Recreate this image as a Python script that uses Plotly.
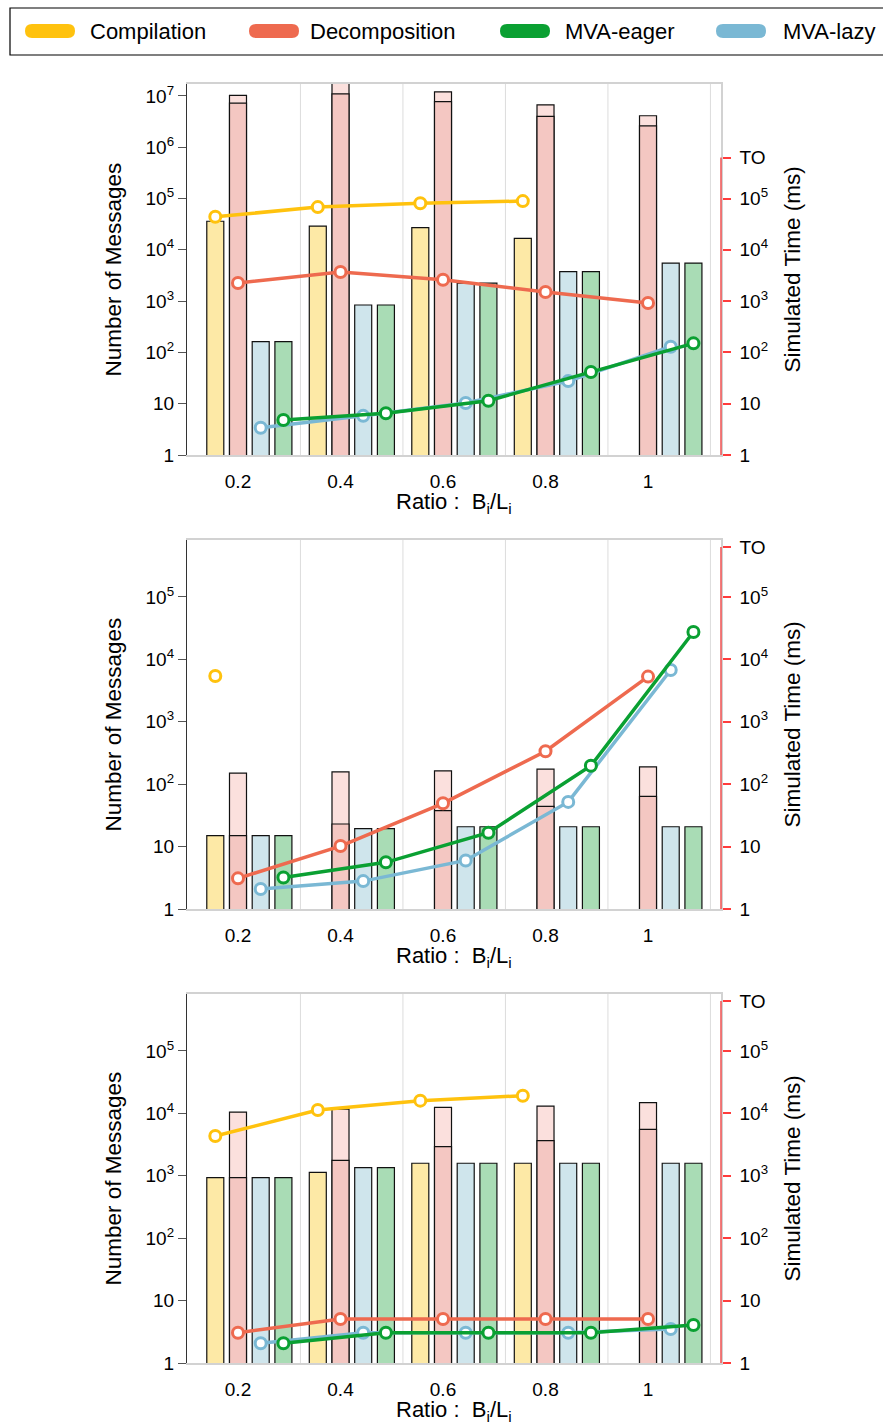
import math
import plotly.graph_objects as go

# ---------------------------------------------------------------- data
RATIOS = [0.2, 0.4, 0.6, 0.8, 1.0]
RATIO_LABELS = ["0.2", "0.4", "0.6", "0.8", "1"]
TIMEOUT_MS = 6.3e5  # position of the "TO" tick on the time axis

# Panel 1 -- number of messages (bars)
p1_msg_compilation = [3.6e4, 2.9e4, 2.7e4, 1.67e4, None]
p1_msg_decomp_first = [7.2e6, 1.1e7, 7.7e6, 4.0e6, 2.6e6]
p1_msg_decomp_total = [1.02e7, 1.8e7, 1.2e7, 6.7e6, 4.1e6]
p1_msg_lazy = [162, 840, 2240, 3750, 5500]
p1_msg_eager = [162, 840, 2240, 3750, 5500]
# Panel 1 -- simulated time in ms (lines)
p1_time_compilation = [4.4e4, 6.8e4, 8.1e4, 8.9e4, None]
p1_time_decomp = [2250, 3700, 2600, 1500, 920]
p1_time_lazy = [3.4, 5.8, 10.3, 27.6, 129]
p1_time_eager = [4.8, 6.5, 11.4, 41.5, 150]

# Panel 2
p2_msg_compilation = [15, None, None, None, None]
p2_msg_decomp_first = [15, 23, 37.6, 44, 64]
p2_msg_decomp_total = [150, 157, 164, 174, 189]
p2_msg_lazy = [15, 19.4, 20.8, 20.8, 20.8]
p2_msg_eager = [15, 19.4, 20.8, 20.8, 20.8]
p2_time_compilation = [5420, None, None, None, None]
p2_time_decomp = [3.1, 10.2, 49.4, 337, 5300]
p2_time_lazy = [2.09, 2.8, 6.0, 52, 6760]
p2_time_eager = [3.2, 5.6, 16.7, 198, 2.75e4]

# Panel 3
p3_msg_compilation = [933, 1138, 1588, 1588, None]
p3_msg_decomp_first = [933, 1771, 2924, 3652, 5560]
p3_msg_decomp_total = [1.05e4, 1.17e4, 1.25e4, 1.31e4, 1.49e4]
p3_msg_lazy = [933, 1350, 1588, 1588, 1588]
p3_msg_eager = [933, 1350, 1588, 1588, 1588]
p3_time_compilation = [4345, 1.13e4, 1.6e4, 1.92e4, None]
p3_time_decomp = [3.06, 5.07, 5.07, 5.07, 5.07]
p3_time_lazy = [2.07, 3.06, 3.06, 3.06, 3.5]
p3_time_eager = [2.07, 3.06, 3.06, 3.06, 4.06]

panels = [
    dict(msg=(p1_msg_compilation, p1_msg_decomp_first, p1_msg_decomp_total, p1_msg_lazy, p1_msg_eager),
         time=(p1_time_compilation, p1_time_decomp, p1_time_lazy, p1_time_eager), top=7.232, decades=7),
    dict(msg=(p2_msg_compilation, p2_msg_decomp_first, p2_msg_decomp_total, p2_msg_lazy, p2_msg_eager),
         time=(p2_time_compilation, p2_time_decomp, p2_time_lazy, p2_time_eager), top=5.913, decades=5),
    dict(msg=(p3_msg_compilation, p3_msg_decomp_first, p3_msg_decomp_total, p3_msg_lazy, p3_msg_eager),
         time=(p3_time_compilation, p3_time_decomp, p3_time_lazy, p3_time_eager), top=5.913, decades=5),
]

# ---------------------------------------------------------------- style
W, H = 883, 1427
FONT = "Liberation Sans, Arial, Helvetica, sans-serif"

C_COMP, C_COMP_BAR = "#ffc20e", "#fde9a6"
C_DEC, C_DEC_BAR, C_DEC_BAR_LIGHT = "#ee6a4f", "#f4c7c2", "#fbe0dd"
C_EAGER, C_EAGER_BAR = "#0aa032", "#a9dcb5"
C_LAZY, C_LAZY_BAR = "#7ab8d4", "#cfe5ec"

STEP = 0.0443      # distance between neighbouring bars of a group
BAR_W = 0.0332     # bar width
X_RANGE = [0.1005, 1.1424]
X_DOMAIN = [187 / W, 721 / W]
# plot area rows (top, bottom) in pixels
ROWS = [(84, 455), (540, 909), (994, 1363)]


def py(px):
    return 1 - px / H


def sup_label(k):
    if k == 0:
        return "1"
    if k == 1:
        return "10"
    return f"10<sup>{k}</sup>"


fig = go.Figure()
layout = dict(
    width=W, height=H,
    margin=dict(l=0, r=0, t=0, b=0, autoexpand=False),
    paper_bgcolor="white", plot_bgcolor="white",
    font=dict(family=FONT, size=19, color="black"),
    showlegend=False,
    barmode="overlay",
    shapes=[], annotations=[],
)

for i, pnl in enumerate(panels):
    xa = "x" if i == 0 else f"x{i + 1}"
    yl = "y" if i == 0 else f"y{2 * i + 1}"
    yr = f"y{2 * i + 2}"
    top_px, bot_px = ROWS[i]
    dom_y = [py(bot_px), py(top_px)]

    comp, dec_first, dec_total, lazy, eager = pnl["msg"]
    t_comp, t_dec, t_lazy, t_eager = pnl["time"]

    pos = {k: [r + off * STEP for r in RATIOS]
           for k, off in (("comp", -1), ("dec", 0), ("lazy", 1), ("eager", 2))}

    bar_line = dict(color="#111111", width=1.2)
    for xs, ys, col in ((pos["comp"], comp, C_COMP_BAR),
                        (pos["dec"], dec_total, C_DEC_BAR_LIGHT),
                        (pos["dec"], dec_first, C_DEC_BAR),
                        (pos["lazy"], lazy, C_LAZY_BAR),
                        (pos["eager"], eager, C_EAGER_BAR)):
        fig.add_trace(go.Bar(x=xs, y=ys, width=BAR_W, xaxis=xa, yaxis=yl,
                             marker=dict(color=col, line=bar_line), hoverinfo="skip"))

    for xs, ys, col in ((pos["lazy"], t_lazy, C_LAZY),
                        (pos["eager"], t_eager, C_EAGER),
                        (pos["dec"], t_dec, C_DEC),
                        (pos["comp"], t_comp, C_COMP)):
        fig.add_trace(go.Scatter(x=xs, y=ys, xaxis=xa, yaxis=yr, mode="lines+markers",
                                 line=dict(color=col, width=3.5),
                                 marker=dict(symbol="circle", size=11, color="white",
                                             line=dict(color=col, width=3)),
                                 hoverinfo="skip"))

    rng = [0, pnl["top"]]
    left_vals = [10 ** k for k in range(pnl["decades"] + 1)]
    right_vals = [10 ** k for k in range(6)] + [TIMEOUT_MS]

    layout["xaxis" if i == 0 else f"xaxis{i + 1}"] = dict(
        domain=X_DOMAIN, range=X_RANGE, anchor=yl,
        tickmode="array", tickvals=RATIOS, ticktext=RATIO_LABELS,
        ticks="", ticklabelstandoff=8, showgrid=False, zeroline=False,
        showline=True, linecolor="#d2d2d2", linewidth=1.5, mirror=True,
        tickfont=dict(size=19),
    )
    layout["yaxis" if i == 0 else f"yaxis{2 * i + 1}"] = dict(
        domain=dom_y, type="log", range=rng, anchor=xa,
        tickmode="array", tickvals=left_vals,
        ticktext=[sup_label(k) for k in range(pnl["decades"] + 1)],
        ticks="outside", ticklen=8, tickcolor="#555555", tickwidth=1.2,
        showline=True, linecolor="#333333", linewidth=1.2,
        showgrid=False, zeroline=False, tickfont=dict(size=19),
    )
    layout[f"yaxis{2 * i + 2}"] = dict(
        type="log", range=rng, anchor=xa, overlaying=yl, side="right",
        tickmode="array", tickvals=right_vals,
        ticktext=[sup_label(k) for k in range(6)] + ["TO"],
        ticks="outside", ticklen=8, tickcolor="#ff3b3b", tickwidth=1.5,
        ticklabelstandoff=5,
        showline=True, linecolor="#d2d2d2", linewidth=1.5,
        showgrid=False, zeroline=False, tickfont=dict(size=19),
    )

    # vertical separators between ratio groups
    for r in RATIOS:
        layout["shapes"].append(dict(
            type="line", xref=xa, yref=f"{yl} domain", x0=r + 2.75 * STEP, x1=r + 2.75 * STEP,
            y0=0, y1=1, line=dict(color="#dcdcdc", width=1), layer="below"))
    # red time axis from 1 up to the timeout mark
    layout["shapes"].append(dict(
        type="line", xref=f"{xa} domain", yref=f"{yl} domain", x0=1, x1=1,
        y0=0, y1=math.log10(TIMEOUT_MS) / pnl["top"],
        line=dict(color="#f25a5a", width=1.6), layer="above"))

    # axis titles
    layout["annotations"] += [
        dict(text="Ratio :  B<sub>i</sub>/L<sub>i</sub>", xref="paper", yref="paper",
             x=(X_DOMAIN[0] + X_DOMAIN[1]) / 2, y=py(bot_px + 48), xanchor="center",
             yanchor="middle", showarrow=False, font=dict(size=22)),
        dict(text="Number of Messages", xref="paper", yref="paper", textangle=-90,
             x=113 / W, y=py((top_px + bot_px) / 2), xanchor="center", yanchor="middle",
             showarrow=False, font=dict(size=22.5)),
        dict(text="Simulated Time (ms)", xref="paper", yref="paper", textangle=-90,
             x=792 / W, y=py((top_px + bot_px) / 2), xanchor="center", yanchor="middle",
             showarrow=False, font=dict(size=22.5)),
    ]

# ---------------------------------------------------------------- legend
layout["shapes"].append(dict(type="rect", xref="paper", yref="paper",
                             x0=10 / W, x1=1.02, y0=py(55), y1=py(8),
                             line=dict(color="black", width=1.2), fillcolor="white"))
pill = ("M -18,-7 L 18,-7 Q 25,-7 25,0 Q 25,7 18,7 "
        "L -18,7 Q -25,7 -25,0 Q -25,-7 -18,-7 Z")
legend_items = [("Compilation", C_COMP, 50, 88), ("Decomposition", C_DEC, 274, 308),
                ("MVA-eager", C_EAGER, 525, 563), ("MVA-lazy", C_LAZY, 741, 781)]
for name, col, cx, tx in legend_items:
    layout["shapes"].append(dict(type="path", xref="paper", yref="paper",
                                 xsizemode="pixel", ysizemode="pixel",
                                 xanchor=cx / W, yanchor=py(31), path=pill,
                                 fillcolor=col, line=dict(width=0)))
    layout["annotations"].append(dict(text=name, xref="paper", yref="paper",
                                      x=tx / W, y=py(31), xanchor="left", yanchor="middle",
                                      showarrow=False, font=dict(size=22)))

fig.update_layout(**layout)
fig.write_html("out.html")
